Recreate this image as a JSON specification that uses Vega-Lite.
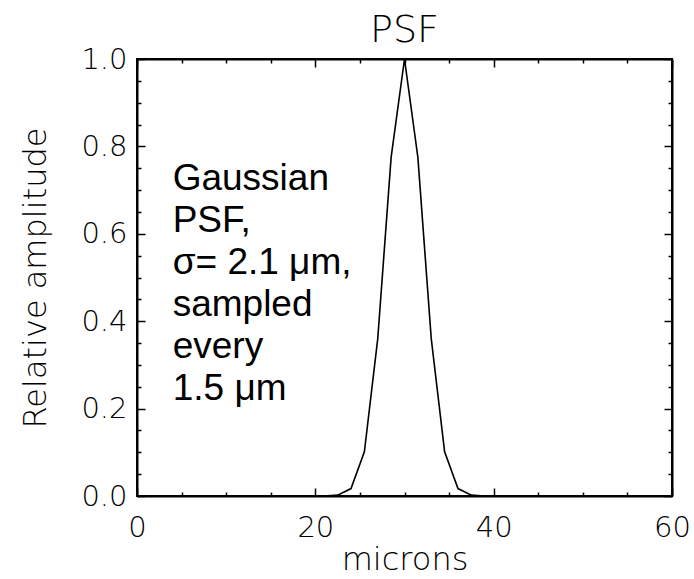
{
  "$schema": "https://vega.github.io/schema/vega-lite/v6.json",
  "autosize": {"type": "none"},
  "padding": {"left": 137, "top": 59, "right": 22, "bottom": 83},
  "width": 535,
  "height": 437,
  "background": "white",
  "title": {"text": "PSF", "font": "DejaVu Sans", "fontWeight": 300, "fontSize": 38, "color": "black", "offset": -5, "anchor": "middle"},
  "config": {
    "view": {"stroke": "black", "strokeWidth": 2},
    "axis": {"domainColor": "black", "domainWidth": 2, "tickColor": "black", "tickWidth": 1.5, "labelColor": "black", "titleColor": "black", "grid": false, "labelFont": "DejaVu Sans", "titleFont": "DejaVu Sans", "labelFontWeight": 300, "titleFontWeight": 300, "labelFontSize": 29, "titleFontSize": 32}
  },
  "datasets": {
    "psf": [
      {"x": 0, "y": 0}, {"x": 1.5, "y": 0}, {"x": 3, "y": 0}, {"x": 4.5, "y": 0}, {"x": 6, "y": 0},
      {"x": 7.5, "y": 0}, {"x": 9, "y": 0}, {"x": 10.5, "y": 0}, {"x": 12, "y": 0}, {"x": 13.5, "y": 0},
      {"x": 15, "y": 0}, {"x": 16.5, "y": 0}, {"x": 18, "y": 0}, {"x": 19.5, "y": 0}, {"x": 21, "y": 0},
      {"x": 22.5, "y": 0.002}, {"x": 24, "y": 0.017}, {"x": 25.5, "y": 0.101}, {"x": 27, "y": 0.36},
      {"x": 28.5, "y": 0.775}, {"x": 30, "y": 1.0}, {"x": 31.5, "y": 0.775}, {"x": 33, "y": 0.36},
      {"x": 34.5, "y": 0.101}, {"x": 36, "y": 0.017}, {"x": 37.5, "y": 0.002}, {"x": 39, "y": 0},
      {"x": 40.5, "y": 0}, {"x": 42, "y": 0}, {"x": 43.5, "y": 0}, {"x": 45, "y": 0}, {"x": 46.5, "y": 0},
      {"x": 48, "y": 0}, {"x": 49.5, "y": 0}, {"x": 51, "y": 0}, {"x": 52.5, "y": 0}, {"x": 54, "y": 0},
      {"x": 55.5, "y": 0}, {"x": 57, "y": 0}, {"x": 58.5, "y": 0}, {"x": 60, "y": 0}
    ],
    "note": [
      {"x": 4, "y": 0.70, "label": ["Gaussian", "PSF,", "σ= 2.1 μm,", "sampled", "every", "1.5 μm"]}
    ]
  },
  "layer": [
    {
      "data": {"name": "psf"},
      "mark": {"type": "line", "color": "black", "strokeWidth": 1.6, "interpolate": "linear"},
      "encoding": {
        "x": {"field": "x", "type": "quantitative", "scale": {"domain": [0, 60], "nice": false},
          "axis": {"orient": "bottom", "title": "microns", "values": [0, 5, 10, 15, 20, 25, 30, 35, 40, 45, 50, 55, 60],
            "labelExpr": "datum.value % 20 === 0 ? datum.label : ''",
            "tickSize": {"condition": {"test": "datum.value % 20 === 0", "value": -8}, "value": -4},
            "labelPadding": 25, "titlePadding": 2, "labelFlush": false}},
        "y": {"field": "y", "type": "quantitative", "scale": {"domain": [0, 1], "nice": false},
          "axis": {"orient": "left", "title": "Relative amplitude", "values": [0, 0.05, 0.1, 0.15, 0.2, 0.25, 0.3, 0.35, 0.4, 0.45, 0.5, 0.55, 0.6, 0.65, 0.7, 0.75, 0.8, 0.85, 0.9, 0.95, 1.0],
            "labelExpr": "abs(datum.value*5 - round(datum.value*5)) < 0.001 ? format(datum.value, '.1f') : ''",
            "tickSize": {"condition": {"test": "abs(datum.value*5 - round(datum.value*5)) < 0.001", "value": -8}, "value": -4},
            "labelPadding": 18, "titlePadding": 28, "labelFlush": false}}
      }
    },
    {
      "data": {"name": "note"},
      "mark": {"type": "text", "align": "left", "baseline": "alphabetic", "font": "Liberation Sans", "fontSize": 37, "lineHeight": 42, "color": "black"},
      "encoding": {
        "x": {"field": "x", "type": "quantitative", "scale": {"domain": [0, 60], "nice": false},
          "axis": {"orient": "top", "title": null, "labels": false, "values": [0, 5, 10, 15, 20, 25, 30, 35, 40, 45, 50, 55, 60],
            "tickSize": {"condition": {"test": "datum.value % 20 === 0", "value": -8}, "value": -4}}},
        "y": {"field": "y", "type": "quantitative", "scale": {"domain": [0, 1], "nice": false},
          "axis": {"orient": "right", "title": null, "labels": false, "values": [0, 0.05, 0.1, 0.15, 0.2, 0.25, 0.3, 0.35, 0.4, 0.45, 0.5, 0.55, 0.6, 0.65, 0.7, 0.75, 0.8, 0.85, 0.9, 0.95, 1.0],
            "tickSize": {"condition": {"test": "abs(datum.value*5 - round(datum.value*5)) < 0.001", "value": -8}, "value": -4}}},
        "text": {"field": "label"}
      }
    }
  ],
  "resolve": {"axis": {"x": "independent", "y": "independent"}}
}
